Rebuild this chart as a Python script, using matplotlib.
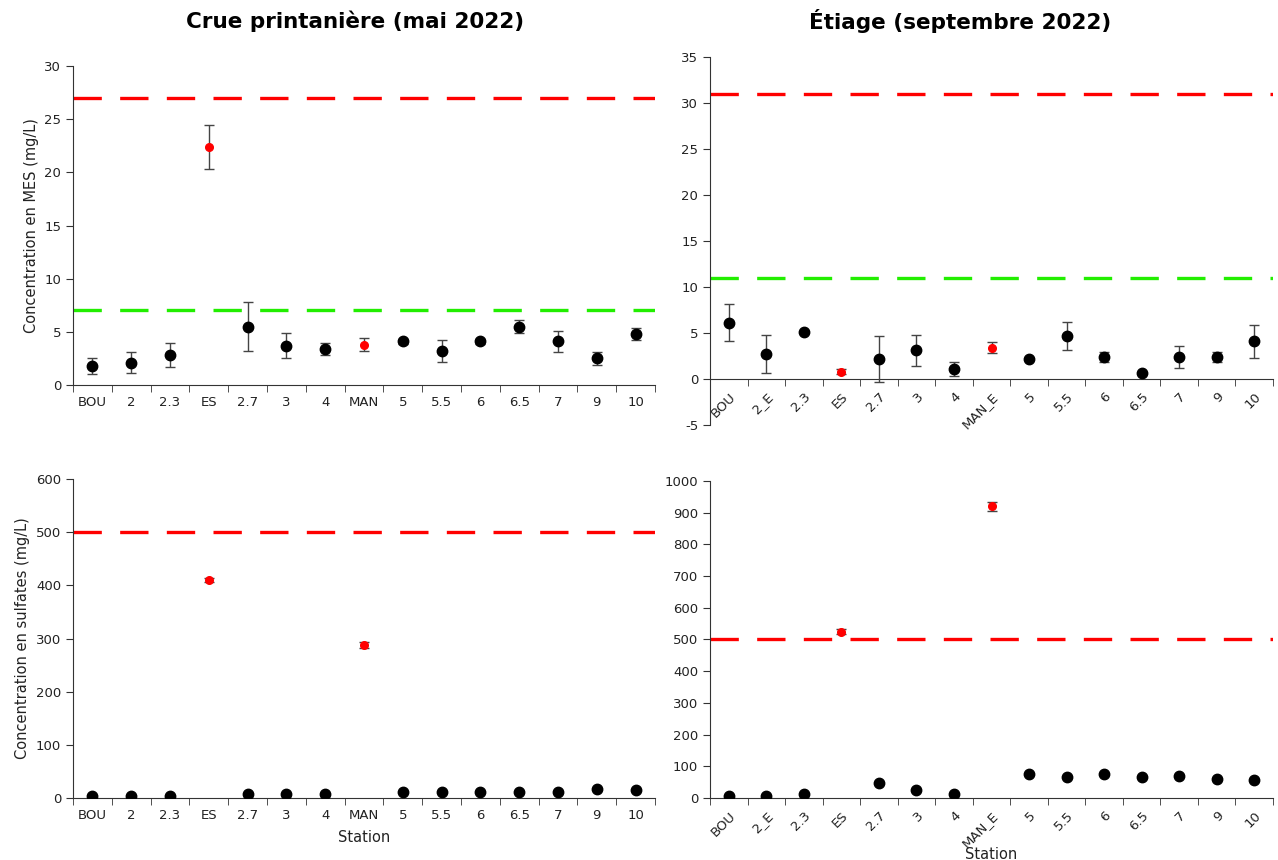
import matplotlib
matplotlib.use("Agg")
import matplotlib.pyplot as plt

plt.rcParams['font.family'] = ['DejaVu Sans']
plt.rcParams['axes.unicode_minus'] = False

# --- data ---
stations_mai = ["BOU", "2", "2.3", "ES", "2.7", "3", "4", "MAN", "5", "5.5", "6", "6.5", "7", "9", "10"]
stations_sep = ["BOU", "2_E", "2.3", "ES", "2.7", "3", "4", "MAN_E", "5", "5.5", "6", "6.5", "7", "9", "10"]
red_stations = ["ES", "MAN", "MAN_E"]

mes_mai = [1.8, 2.1, 2.8, 22.4, 5.5, 3.7, 3.4, 3.8, 4.1, 3.2, 4.1, 5.5, 4.1, 2.5, 4.8]
mes_mai_err = [0.75, 1.0, 1.15, 2.1, 2.3, 1.15, 0.55, 0.6, 0.2, 1.0, 0.2, 0.6, 0.95, 0.6, 0.55]
mes_sep = [6.1, 2.7, 5.1, 0.8, 2.2, 3.1, 1.1, 3.4, 2.2, 4.7, 2.4, 0.6, 2.4, 2.4, 4.1]
mes_sep_err = [2.0, 2.05, 0.1, 0.3, 2.5, 1.7, 0.8, 0.6, 0.1, 1.55, 0.5, 0.1, 1.15, 0.5, 1.8]

sulf_mai = [4, 4, 4, 410, 7, 7, 7, 288, 12, 12, 12, 12, 12, 17, 15]
sulf_mai_err = [0, 0, 0, 4, 0, 0, 0, 6, 0, 0, 0, 0, 0, 0, 0]
sulf_sep = [7, 7, 12, 525, 48, 25, 12, 920, 75, 65, 75, 65, 70, 60, 57]
sulf_sep_err = [0, 0, 0, 8, 0, 0, 0, 14, 0, 0, 0, 0, 0, 0, 0]

mes_red_mai, mes_green_mai = 27, 7.1
mes_red_sep, mes_green_sep = 31, 11
sulf_red_mai, sulf_red_sep = 500, 503

W, H = 1278, 860
fig = plt.figure(figsize=(W / 100, H / 100), dpi=100)


def panel(rect, labels, vals, errs, ylim, ystep, lines, rotate=False, zero_axis=False):
    ax = fig.add_axes(rect)
    # spine position first: moving it resets the ticks
    for s in ["top", "right"]:
        ax.spines[s].set_visible(False)
    for s in ["left", "bottom"]:
        ax.spines[s].set_color("#333333")
    if zero_axis:
        ax.spines["bottom"].set_position(("data", 0))
    for i, (v, e, lab) in enumerate(zip(vals, errs, labels)):
        is_red = lab in red_stations
        ax.errorbar(i, v, yerr=e if e > 0 else None, fmt="o",
                    color="red" if is_red else "black",
                    markersize=5.5 if is_red else 7.5,
                    ecolor="#444444", elinewidth=1, capsize=3.5, capthick=1, zorder=3)
    for y, c in lines:
        ax.axhline(y, color=c, lw=2.4, dashes=(8.5, 5.5), zorder=2)
    ax.set_xlim(-0.5, len(labels) - 0.5)
    ax.set_ylim(*ylim)
    ax.set_yticks(range(ylim[0], ylim[1] + 1, ystep))
    ax.set_xticks(range(len(labels)))
    ax.set_xticks([i - 0.5 for i in range(len(labels) + 1)], minor=True)
    ax.tick_params(axis="x", which="major", length=0, pad=8, labelsize=9.5, labelcolor="#222222")
    ax.tick_params(axis="x", which="minor", length=5, direction="out", color="#333333")
    ax.tick_params(axis="y", length=5, direction="out", labelsize=9.5, labelcolor="#222222", color="#333333")
    if rotate:
        ax.set_xticklabels(labels, rotation=45, ha="right", va="top", rotation_mode="anchor")
    else:
        ax.set_xticklabels(labels)
    return ax


ax1 = panel([0.0571, 0.5523, 0.4554, 0.3709], stations_mai, mes_mai, mes_mai_err,
            (0, 30), 5, [(mes_red_mai, "red"), (mes_green_mai, "#22ee00")])
ax1.set_ylabel("Concentration en MES (mg/L)", fontsize=10.5, color="#222222")

ax2 = panel([0.5556, 0.5058, 0.4405, 0.4279], stations_sep, mes_sep, mes_sep_err,
            (-5, 35), 5, [(mes_red_sep, "red"), (mes_green_sep, "#22ee00")],
            rotate=True, zero_axis=True)

ax3 = panel([0.0571, 0.0721, 0.4554, 0.3709], stations_mai, sulf_mai, sulf_mai_err,
            (0, 600), 100, [(sulf_red_mai, "red")])
ax3.set_ylabel("Concentration en sulfates (mg/L)", fontsize=10.5, color="#222222")
ax3.set_xlabel("Station", fontsize=10.5, color="#222222", labelpad=6)

ax4 = panel([0.5556, 0.0721, 0.4405, 0.3686], stations_sep, sulf_sep, sulf_sep_err,
            (0, 1000), 100, [(sulf_red_sep, "red")], rotate=True)
ax4.set_xlabel("Station", fontsize=10.5, color="#222222", labelpad=-2)

fig.text(355 / W, 1 - 21 / H, "Crue printanière (mai 2022)", fontsize=15.5,
         fontweight="bold", ha="center", va="center")
fig.text(960 / W, 1 - 21 / H, "Étiage (septembre 2022)", fontsize=15.5,
         fontweight="bold", ha="center", va="center")

fig.savefig("out.png", dpi=100)
